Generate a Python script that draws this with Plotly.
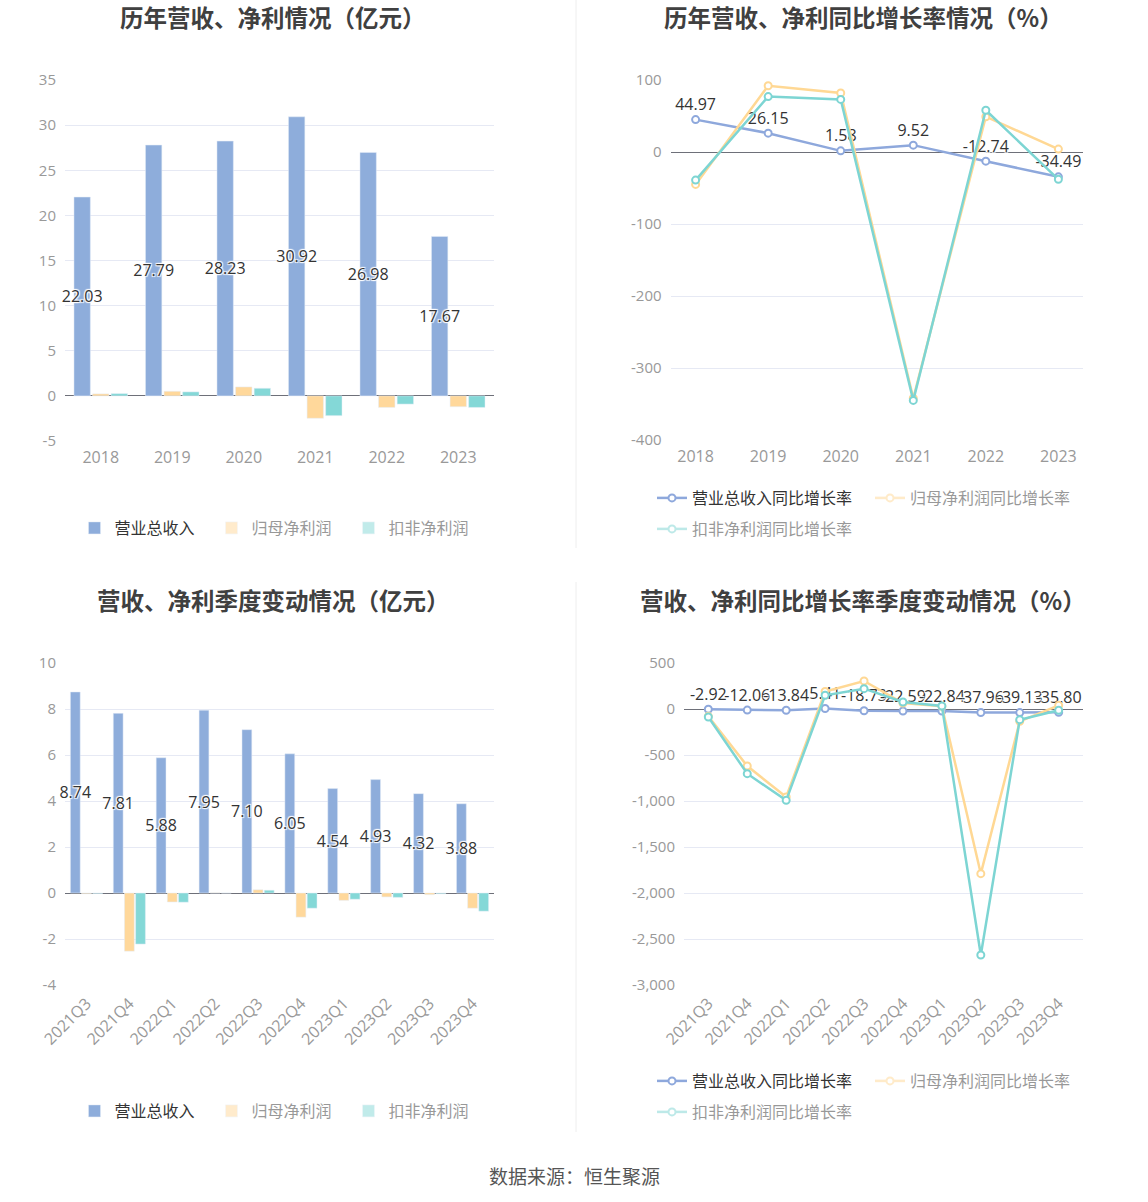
import plotly.graph_objects as go

# ---------------- data ----------------
years = ['2018', '2019', '2020', '2021', '2022', '2023']
rev_year = [22.03, 27.79, 28.23, 30.92, 26.98, 17.67]
np_year = [0.22, 0.51, 0.99, -2.48, -1.28, -1.20]
dnp_year = [0.25, 0.44, 0.84, -2.19, -0.91, -1.28]

rev_yoy = [44.97, 26.15, 1.58, 9.52, -12.74, -34.49]
np_yoy = [-45, 92, 82, -342, 49, 4]
dnp_yoy = [-39, 77, 73, -345, 58, -38]

quarters = ['2021Q3', '2021Q4', '2022Q1', '2022Q2', '2022Q3', '2022Q4',
            '2023Q1', '2023Q2', '2023Q3', '2023Q4']
rev_q = [8.74, 7.81, 5.88, 7.95, 7.10, 6.05, 4.54, 4.93, 4.32, 3.88]
np_q = [-0.03, -2.53, -0.39, 0.01, 0.14, -1.05, -0.32, -0.17, -0.07, -0.66]
dnp_q = [-0.02, -2.22, -0.40, 0.00, 0.12, -0.66, -0.27, -0.19, -0.03, -0.79]

rev_q_yoy = [-2.92, -12.06, -13.84, 5.41, -18.73, -22.59, -22.84, -37.96, -39.13, -35.80]
np_q_yoy = [-80, -620, -957, 190, 304, 65, 29, -1790, -134, 40]
dnp_q_yoy = [-87, -703, -993, 149, 221, 76, 33, -2674, -116, -14]

# tick labels of the value axes
y1_ticks = [-5, 0, 5, 10, 15, 20, 25, 30, 35]
y1_text = ['-5', '0', '5', '10', '15', '20', '25', '30', '35']
y2_ticks = [-400, -300, -200, -100, 0, 100]
y2_text = ['-400', '-300', '-200', '-100', '0', '100']
y3_ticks = [-4, -2, 0, 2, 4, 6, 8, 10]
y3_text = ['-4', '-2', '0', '2', '4', '6', '8', '10']
y4_ticks = [-3000, -2500, -2000, -1500, -1000, -500, 0, 500]
y4_text = ['-3,000', '-2,500', '-2,000', '-1,500', '-1,000', '-500', '0', '500']

bar_names = ['营业总收入', '归母净利润', '扣非净利润']
line_names = ['营业总收入同比增长率', '归母净利润同比增长率', '扣非净利润同比增长率']
titles = ['历年营收、净利情况（亿元）', '历年营收、净利同比增长率情况（%）',
          '营收、净利季度变动情况（亿元）', '营收、净利同比增长率季度变动情况（%）']
source = '数据来源：恒生聚源'

# ---------------- style ----------------
W, H = 1148, 1202
FONT = 'Open Sans, Noto Sans CJK SC, sans-serif'
CJK = 'Noto Sans CJK SC, sans-serif'
BAR_C = ['#8eaddb', '#ffd89b', '#84d8d7']
LINE_C = ['#8ea8dc', '#ffd894', '#7dd5d3']
GRID = '#e6e9f4'
AXIS = '#6e7079'
TICK = '#999999'
SHADOW = '1px 1px 1px #fff, -1px -1px 1px #fff, 1px -1px 1px #fff, -1px 1px 1px #fff'


def px_x(a, b):
    return [a / W, b / W]


def px_y(top, bottom):
    return [1 - bottom / H, 1 - top / H]


fig = go.Figure()


def fmt(v):
    return f'{v:.2f}'


def add_bars(cats, series, xa, ya, legend):
    for i, (name, vals) in enumerate(zip(bar_names, series)):
        kw = {}
        if i == 0:
            kw = dict(text=[fmt(v) for v in vals], textposition='inside',
                      insidetextanchor='middle', textangle=0, constraintext='none',
                      textfont=dict(size=16, color='#333', family=FONT, shadow=SHADOW))
        fig.add_trace(go.Bar(x=cats, y=vals, name=name, marker_color=BAR_C[i],
                             xaxis=xa, yaxis=ya, legend=legend, showlegend=(i == 0),
                             cliponaxis=False, **kw))
        if i > 0:
            fig.add_trace(go.Bar(x=cats, y=vals, name=name, marker_color=BAR_C[i],
                                 xaxis=xa, yaxis=ya, legend=legend, visible='legendonly'))


def add_lines(cats, series, xa, ya, legends):
    for i, (name, vals) in enumerate(zip(line_names, series)):
        kw = {}
        mode = 'lines+markers'
        if i == 0:
            mode = 'lines+markers+text'
            kw = dict(text=[fmt(v) for v in vals], textposition='top center',
                      textfont=dict(size=16, color='#333', family=FONT, shadow=SHADOW))
        common = dict(x=cats, y=vals, name=name, mode=mode, xaxis=xa, yaxis=ya,
                      line=dict(color=LINE_C[i], width=2.5),
                      marker=dict(symbol='circle', size=7, color='white',
                                  line=dict(color=LINE_C[i], width=2)),
                      cliponaxis=False, legend=legends[i])
        if i == 0:
            fig.add_trace(go.Scatter(**common, **kw))
        else:
            fig.add_trace(go.Scatter(**common, showlegend=False))
            d = dict(common)
            d['mode'] = 'lines+markers'
            fig.add_trace(go.Scatter(**d, visible='legendonly'))


add_bars(years, [rev_year, np_year, dnp_year], 'x', 'y', 'legend')
add_lines(years, [rev_yoy, np_yoy, dnp_yoy], 'x2', 'y2', ['legend2', 'legend2', 'legend3'])
add_bars(quarters, [rev_q, np_q, dnp_q], 'x3', 'y3', 'legend4')
add_lines(quarters, [rev_q_yoy, np_q_yoy, dnp_q_yoy], 'x4', 'y4', ['legend5', 'legend5', 'legend6'])

xcommon = dict(type='category', showgrid=False, showline=False, zeroline=False,
               ticks='', tickfont=dict(size=16, color=TICK, family=FONT),
               ticklabelstandoff=5, fixedrange=True, automargin=False)
ycommon = dict(showgrid=True, gridcolor=GRID, gridwidth=1, zeroline=True,
               zerolinecolor=AXIS, zerolinewidth=1, showline=False, ticks='',
               tickfont=dict(size=15, color=TICK, family=FONT), ticklabelstandoff=8,
               fixedrange=True, tickmode='array', automargin=False)

fig.update_layout(
    xaxis=dict(xcommon, domain=px_x(65, 494), anchor='y'),
    yaxis=dict(ycommon, domain=px_y(80, 441), range=[-5, 35],
               tickvals=y1_ticks, ticktext=y1_text, anchor='x'),
    xaxis2=dict(xcommon, domain=px_x(670.6, 1083.4), anchor='y2'),
    yaxis2=dict(ycommon, domain=px_y(80, 440), range=[-400, 100],
                tickvals=y2_ticks, ticktext=y2_text, anchor='x2'),
    xaxis3=dict(xcommon, domain=px_x(65, 494), anchor='y3', tickangle=-45),
    yaxis3=dict(ycommon, domain=px_y(663, 985), range=[-4, 10],
                tickvals=y3_ticks, ticktext=y3_text, anchor='x3'),
    xaxis4=dict(xcommon, domain=px_x(684, 1083), anchor='y4', tickangle=-45),
    yaxis4=dict(ycommon, domain=px_y(663, 985), range=[-3000, 500],
                tickvals=y4_ticks, ticktext=y4_text, anchor='x4'),
)

leg = dict(orientation='h', font=dict(size=16, color='#333', family=CJK),
           bgcolor='rgba(0,0,0,0)', itemclick=False, itemdoubleclick=False,
           yanchor='middle', tracegroupgap=0)
fig.update_layout(
    legend=dict(leg, x=280 / W, xanchor='center', y=1 - 528 / H, entrywidth=92),
    legend2=dict(leg, x=652 / W, xanchor='left', y=1 - 498 / H, entrywidth=173),
    legend3=dict(leg, x=652 / W, xanchor='left', y=1 - 529 / H, entrywidth=173),
    legend4=dict(leg, x=280 / W, xanchor='center', y=1 - 1111 / H, entrywidth=92),
    legend5=dict(leg, x=652 / W, xanchor='left', y=1 - 1081 / H, entrywidth=173),
    legend6=dict(leg, x=652 / W, xanchor='left', y=1 - 1112 / H, entrywidth=173),
)

ann = []
for t, (cx, cy) in zip(titles, [(273, 17), (863, 17), (273, 600), (863, 600)]):
    ann.append(dict(text=f'<b>{t}</b>', x=cx / W, y=1 - cy / H, xref='paper', yref='paper',
                    xanchor='center', yanchor='middle', showarrow=False,
                    font=dict(size=23.5, color='#404040', family=CJK)))
ann.append(dict(text=source, x=574 / W, y=1 - 1175 / H, xref='paper', yref='paper',
                xanchor='center', yanchor='middle', showarrow=False,
                font=dict(size=19, color='#555', family=CJK)))

shapes = [
    dict(type='line', xref='paper', yref='paper', x0=576 / W, x1=576 / W,
         y0=1 - 548 / H, y1=1.0, line=dict(color='#eeeeee', width=1)),
    dict(type='line', xref='paper', yref='paper', x0=576 / W, x1=576 / W,
         y0=1 - 1132 / H, y1=1 - 582 / H, line=dict(color='#eeeeee', width=1)),
]

fig.update_layout(
    width=W, height=H, autosize=False,
    margin=dict(l=0, r=0, t=0, b=0, pad=0, autoexpand=False),
    paper_bgcolor='white', plot_bgcolor='white',
    barmode='group', bargap=0.22, bargroupgap=0.12,
    font=dict(family=FONT, color='#333'),
    annotations=ann, shapes=shapes,
    hovermode=False,
)

fig.write_html('out.html', config={'displayModeBar': False},
               post_script="document.body.style.margin='0px';")
